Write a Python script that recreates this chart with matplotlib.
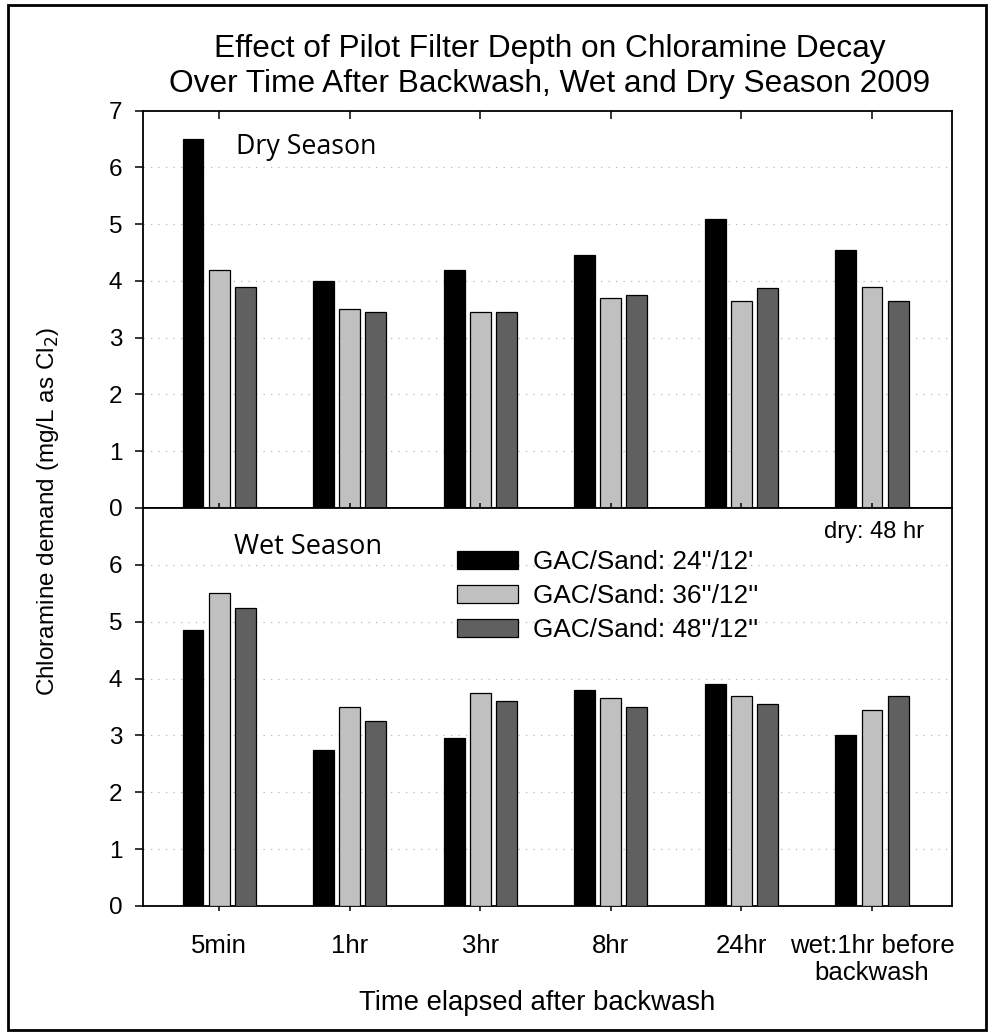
import matplotlib
matplotlib.use('Agg')
import matplotlib.pyplot as plt
from matplotlib.patches import Rectangle
import numpy as np

# ---------------- data ----------------
categories = ['5min', '1hr', '3hr', '8hr', '24hr', 'wet:1hr before\nbackwash']
series_labels = ['GAC/Sand: 24\'\'/12\'', 'GAC/Sand: 36\'\'/12\'\'', 'GAC/Sand: 48\'\'/12\'\'']
dry_24 = [6.5, 4.0, 4.2, 4.45, 5.1, 4.55]
dry_36 = [4.2, 3.5, 3.45, 3.7, 3.65, 3.9]
dry_48 = [3.9, 3.45, 3.45, 3.75, 3.87, 3.65]
wet_24 = [4.85, 2.75, 2.95, 3.8, 3.9, 3.0]
wet_36 = [5.5, 3.5, 3.75, 3.65, 3.7, 3.45]
wet_48 = [5.25, 3.25, 3.6, 3.5, 3.55, 3.7]

colors = ['#000000', '#c0c0c0', '#606060']

plt.rcParams['font.family'] = ['Liberation Sans', 'DejaVu Sans']

W, H = 992, 1035
fig = plt.figure(figsize=(W / 100, H / 100), dpi=100)

left = 143 / W
width = (952 - 143) / W
ax1 = fig.add_axes([left, 1 - 508 / H, width, (508 - 110.7) / H])
ax2 = fig.add_axes([left, 1 - 906 / H, width, (906 - 508) / H])

x = np.arange(len(categories))
bw = 0.16
offs = [-0.2, 0.0, 0.2]

for ax, data in ((ax1, (dry_24, dry_36, dry_48)), (ax2, (wet_24, wet_36, wet_48))):
    for i, (vals, c, lab) in enumerate(zip(data, colors, series_labels)):
        ax.bar(x + offs[i], vals, width=bw, color=c, edgecolor='black',
               linewidth=0.9, label=lab, zorder=3)
    ax.set_xlim(-0.583, 5.613)
    ax.set_ylim(0, 7)
    ax.set_xticks(x)
    for yv in range(1, 7):
        ax.axhline(yv, color='#b8b8b8', linewidth=0.9, linestyle=(0, (1, 5)), zorder=1)
    for s in ax.spines.values():
        s.set_linewidth(1.3)
    ax.tick_params(axis='y', direction='out', length=6, width=1.1, pad=9, labelsize=17.5)

ax1.set_yticks(range(0, 8))
ax2.set_yticks(range(0, 7))
ax1.tick_params(axis='x', bottom=False, top=True, direction='in', length=6, width=1.1,
                labelbottom=False, labeltop=False)
ax2.tick_params(axis='x', bottom=True, top=True, width=1.1, labelbottom=True)
# bottom ticks outward, top ticks inward (both pointing down)
for t in ax2.xaxis.get_major_ticks():
    t.tick1line.set_marker(matplotlib.lines.TICKDOWN)
    t.tick1line.set_markersize(7)
    t.tick1line.set_markeredgewidth(1.1)
    t.tick2line.set_marker(matplotlib.lines.TICKDOWN)
    t.tick2line.set_markersize(7)
    t.tick2line.set_markeredgewidth(1.1)
ax2.set_xticklabels(categories, fontsize=18.5, linespacing=1.15)
ax2.tick_params(axis='x', pad=17)

# panel labels
ax1.text(0.13, 6.36, 'Dry Season', fontsize=19.3, family=['Open Sans', 'DejaVu Sans'],
         ha='left', va='center')
ax2.text(0.115, 6.31, 'Wet Season', fontsize=19.5, family=['Open Sans', 'DejaVu Sans'],
         ha='left', va='center')
ax2.text(5.40, 6.58, 'dry: 48 hr', fontsize=17, ha='right', va='center')

# legend
handles, labels = ax2.get_legend_handles_labels()
ax2.legend(handles, labels, loc='upper left', bbox_to_anchor=(457 / W, 1 - 550 / H),
           bbox_transform=fig.transFigure, frameon=False, borderpad=0, borderaxespad=0,
           handlelength=2.35, handleheight=0.68, handletextpad=0.55, labelspacing=0.38,
           fontsize=18.8)

# title & axis labels
fig.text(550 / W, 1 - 57 / H, 'Effect of Pilot Filter Depth on Chloramine Decay',
         fontsize=22.8, ha='center', va='baseline')
fig.text(550 / W, 1 - 92 / H, 'Over Time After Backwash, Wet and Dry Season 2009',
         fontsize=22.8, ha='center', va='baseline')
fig.text(537 / W, 1 - 1003 / H, 'Time elapsed after backwash', fontsize=19.8,
         ha='center', va='center')
fig.text(48 / W, 1 - 511 / H, 'Chloramine demand (mg/L as Cl$_2$)', fontsize=17.5,
         rotation=90, ha='center', va='center')

# outer border
fig.patches.append(Rectangle((8 / W, 5 / H), (986 - 8) / W, (1030 - 5) / H,
                             transform=fig.transFigure, fill=False, edgecolor='black',
                             linewidth=2))

fig.savefig('out.png', dpi=100)
